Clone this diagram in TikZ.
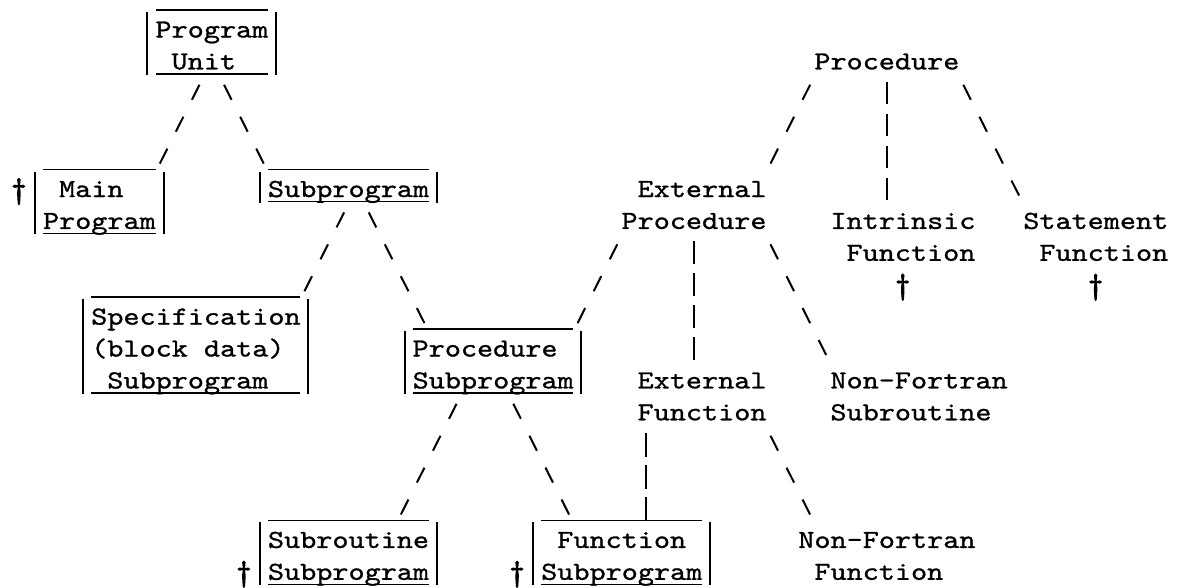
\documentclass[tikz,border=0pt]{standalone}
\usepackage{fontspec}
% Slab-serif typewriter face, widened to a 16pt character pitch
\newfontfamily\tw{lmmono10-regular.otf}[FakeStretch=1.18, FakeBold=1]
\newfontfamily\twd{lmmono10-regular.otf}[FakeBold=4.5]
\usetikzlibrary{calc}

% Typewriter-style box: overline, underline and side bars.
% #1 name, #2 left bar column, #3 right bar column, #4 first row, #5 last row
\newcommand\twbox[5]{%
  \draw[rule] ([yshift=-12pt]{#2+0.5},{#4-1}) coordinate (#1-tl)
           -- ([yshift=-12pt]{#3-0.5},{#4-1}) coordinate (#1-tr);
  \draw[rule] ([yshift=-12pt]{#2+0.5},#5) -- ([yshift=-12pt]{#3-0.5},#5);
  \draw[bar] ([yshift=18pt]#2,#4) -- ([yshift=-13pt]#2,#5);
  \draw[bar] ([yshift=18pt]#3,#4) -- ([yshift=-13pt]#3,#5);
}

\begin{document}
\begin{tikzpicture}[x=16.07pt, y=-31.9pt,
  txt/.style={anchor=base west, inner sep=0pt, outer sep=0pt, yshift=-7.5pt,
              font=\tw\fontsize{26pt}{31.9pt}\selectfont},
  dag/.style={anchor=center, inner sep=0pt, outer sep=0pt, yshift=-2pt,
              font=\twd\fontsize{28pt}{32pt}\selectfont},
  rule/.style={line width=1.6pt},
  bar/.style={line width=2pt},
  slashline/.style={line width=2pt, dash pattern=on 16.77pt off 18.95pt},
  pipeline/.style={line width=2pt, dash pattern=on 22.5pt off 9.4pt},
]
\useasboundingbox[fill=white] (-35pt,30pt) rectangle (1142pt,-557pt);

% ---- boxed program units ----
\twbox{pu}{7}{15}{0}{1}
\node[txt] (pu1) at (7.5,0) {Program};
\node[txt] (pu2) at (8.5,1) {Unit};

\twbox{mp}{0}{8}{5}{6}
\node[dag] (mpd) at (-1,5) {†};
\node[txt] (mp1) at (1.5,5) {Main};
\node[txt] (mp2) at (0.5,6) {Program};

\twbox{sp}{14}{25}{5}{5}
\node[txt] (sp1) at (14.5,5) {Subprogram};

\twbox{bd}{3}{17}{9}{11}
\node[txt] (bd1) at (3.5,9) {Specification};
\node[txt] (bd2) at (3.5,10) {(block data)};
\node[txt] (bd3) at (4.5,11) {Subprogram};

\twbox{ps}{23}{34}{10}{11}
\node[txt] (ps1) at (23.5,10) {Procedure};
\node[txt] (ps2) at (23.5,11) {Subprogram};

\twbox{sr}{14}{25}{16}{17}
\node[dag] (srd) at (13,17) {†};
\node[txt] (sr1) at (14.5,16) {Subroutine};
\node[txt] (sr2) at (14.5,17) {Subprogram};

\twbox{fs}{31}{42}{16}{17}
\node[dag] (fsd) at (30,17) {†};
\node[txt] (fs1) at (32.5,16) {Function};
\node[txt] (fs2) at (31.5,17) {Subprogram};

% ---- procedure classification ----
\node[txt] (pr1) at (48.5,1) {Procedure};
\node[txt] (ep1) at (37.5,5) {External};
\node[txt] (ep2) at (36.5,6) {Procedure};
\node[txt] (in1) at (49.5,6) {Intrinsic};
\node[txt] (in2) at (50.5,7) {Function};
\node[dag] (ind) at (54,8) {†};
\node[txt] (st1) at (61.5,6) {Statement};
\node[txt] (st2) at (62.5,7) {Function};
\node[dag] (std) at (66,8) {†};
\node[txt] (ef1) at (37.5,11) {External};
\node[txt] (ef2) at (37.5,12) {Function};
\node[txt] (ns1) at (49.5,11) {Non-Fortran};
\node[txt] (ns2) at (49.5,12) {Subroutine};
\node[txt] (nf1) at (47.5,16) {Non-Fortran};
\node[txt] (nf2) at (48.5,17) {Function};

% ---- connector end points ----
\coordinate (pu-l)  at ([shift={(3.75pt,9pt)}]10,2);
\coordinate (mp-in) at ([shift={(-3.75pt,-6pt)}]8,4);
\coordinate (pu-r)  at ([shift={(-3.75pt,9pt)}]12,2);
\coordinate (sp-in) at ([shift={(3.75pt,-6pt)}]14,4);

\coordinate (sp-l)  at ([shift={(3.75pt,9pt)}]19,6);
\coordinate (bd-in) at ([shift={(-3.75pt,-6pt)}]17,8);
\coordinate (sp-r)  at ([shift={(-3.75pt,9pt)}]21,6);
\coordinate (ps-in) at ([shift={(3.75pt,-6pt)}]24,9);

\coordinate (ps-l)  at ([shift={(3.75pt,9pt)}]26,12);
\coordinate (sr-in) at ([shift={(-3.75pt,-6pt)}]23,15);
\coordinate (ps-r)  at ([shift={(-3.75pt,9pt)}]30,12);
\coordinate (fs-in) at ([shift={(3.75pt,-6pt)}]33,15);

\coordinate (pr-l)  at ([shift={(3.75pt,9pt)}]48,2);
\coordinate (ep-in) at ([shift={(-3.75pt,-6pt)}]46,4);
\coordinate (pr-m)  at ([yshift=12pt]53,2);
\coordinate (in-in) at ([yshift=-10.5pt]53,5);
\coordinate (pr-r)  at ([shift={(-3.75pt,9pt)}]58,2);
\coordinate (st-in) at ([shift={(3.75pt,-6pt)}]61,5);

\coordinate (ep-l)  at ([shift={(3.75pt,9pt)}]36,7);
\coordinate (ps-ex) at ([shift={(-3.75pt,-6pt)}]34,9);
\coordinate (ep-m)  at ([yshift=12pt]41,7);
\coordinate (ef-in) at ([yshift=-10.5pt]41,10);
\coordinate (ep-r)  at ([shift={(-3.75pt,9pt)}]46,7);
\coordinate (ns-in) at ([shift={(3.75pt,-6pt)}]49,10);

\coordinate (ef-m)  at ([yshift=12pt]38,13);
\coordinate (fs-ex) at ([yshift=-12pt]38,15);
\coordinate (ef-r)  at ([shift={(-3.75pt,9pt)}]46,13);
\coordinate (nf-in) at ([shift={(3.75pt,-6pt)}]48,15);

% ---- typed connectors ----
\draw[slashline] (pu-l) -- (mp-in);
\draw[slashline] (pu-r) -- (sp-in);
\draw[slashline] (sp-l) -- (bd-in);
\draw[slashline] (sp-r) -- (ps-in);
\draw[slashline] (ps-l) -- (sr-in);
\draw[slashline] (ps-r) -- (fs-in);
\draw[slashline] (pr-l) -- (ep-in);
\draw[pipeline]  (pr-m) -- (in-in);
\draw[slashline] (pr-r) -- (st-in);
\draw[slashline] (ep-l) -- (ps-ex);
\draw[pipeline]  (ep-m) -- (ef-in);
\draw[slashline] (ep-r) -- (ns-in);
\draw[pipeline, dash pattern=on 24pt off 7.9pt] (ef-m) -- (fs-ex);
\draw[slashline] (ef-r) -- (nf-in);
\end{tikzpicture}
\end{document}
